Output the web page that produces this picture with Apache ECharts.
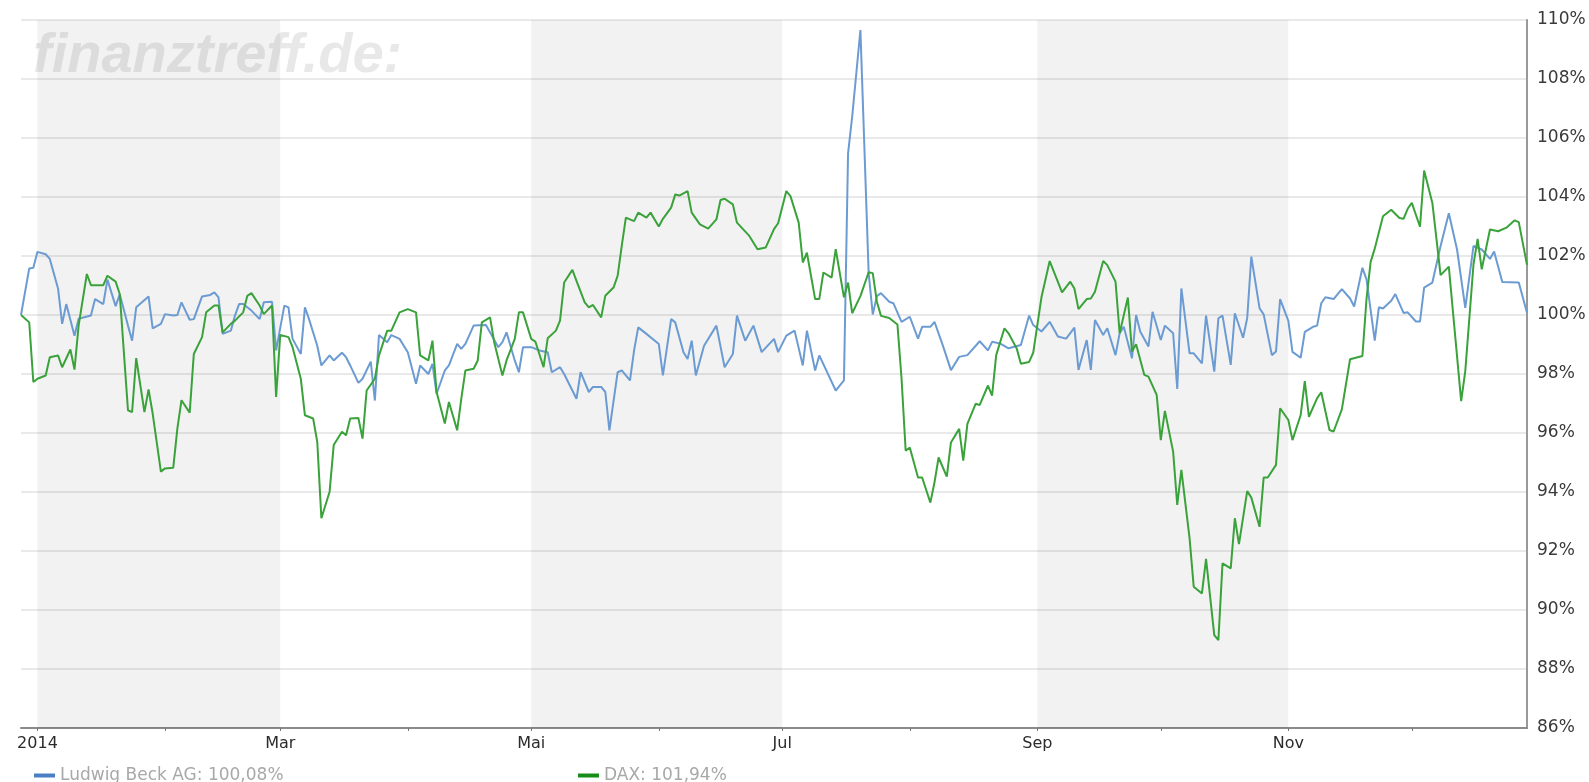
<!DOCTYPE html>
<html>
<head>
<meta charset="utf-8">
<title>Ludwig Beck AG / DAX 2014</title>
<script src="https://cdn.jsdelivr.net/npm/echarts@6/dist/echarts.min.js"></script>
<style>
html, body { margin: 0; padding: 0; background: #fff; }
#chart { width: 1589px; height: 782px; }
</style>
</head>
<body>
<div id="chart"></div>
<script>
// Ludwig Beck AG, Wertentwicklung in % (Start = 100)
var beckDates = [
  '2013-12-28','2013-12-30','2013-12-31','2014-01-01','2014-01-03','2014-01-04','2014-01-06','2014-01-07','2014-01-08','2014-01-10',
  '2014-01-11','2014-01-14','2014-01-15','2014-01-17','2014-01-18','2014-01-20','2014-01-21','2014-01-23','2014-01-24','2014-01-25',
  '2014-01-28','2014-01-29','2014-01-31','2014-02-01','2014-02-03','2014-02-04','2014-02-05','2014-02-07','2014-02-08','2014-02-10',
  '2014-02-12','2014-02-13','2014-02-14','2014-02-15','2014-02-17','2014-02-18','2014-02-19','2014-02-20','2014-02-22','2014-02-24',
  '2014-02-25','2014-02-27','2014-02-28','2014-03-02','2014-03-03','2014-03-04','2014-03-06','2014-03-07','2014-03-08','2014-03-10',
  '2014-03-11','2014-03-13','2014-03-14','2014-03-16','2014-03-17','2014-03-18','2014-03-20','2014-03-21','2014-03-23','2014-03-24',
  '2014-03-25','2014-03-27','2014-03-28','2014-03-30','2014-04-01','2014-04-03','2014-04-04','2014-04-06','2014-04-07','2014-04-08',
  '2014-04-10','2014-04-11','2014-04-13','2014-04-14','2014-04-15','2014-04-17','2014-04-20','2014-04-23','2014-04-24','2014-04-25',
  '2014-04-27','2014-04-28','2014-04-29','2014-05-01','2014-05-03','2014-05-05','2014-05-06','2014-05-08','2014-05-09','2014-05-11',
  '2014-05-12','2014-05-13','2014-05-15','2014-05-16','2014-05-18','2014-05-19','2014-05-20','2014-05-22','2014-05-23','2014-05-25',
  '2014-05-26','2014-05-27','2014-05-29','2014-06-01','2014-06-02','2014-06-04','2014-06-05','2014-06-07','2014-06-08','2014-06-09',
  '2014-06-10','2014-06-12','2014-06-15','2014-06-17','2014-06-19','2014-06-20','2014-06-22','2014-06-24','2014-06-26','2014-06-29',
  '2014-06-30','2014-07-02','2014-07-04','2014-07-06','2014-07-07','2014-07-09','2014-07-10','2014-07-14','2014-07-16','2014-07-17',
  '2014-07-18','2014-07-20','2014-07-22','2014-07-23','2014-07-24','2014-07-25','2014-07-27','2014-07-28','2014-07-30','2014-08-01',
  '2014-08-03','2014-08-04','2014-08-06','2014-08-07','2014-08-09','2014-08-11','2014-08-13','2014-08-15','2014-08-18','2014-08-20',
  '2014-08-21','2014-08-23','2014-08-25','2014-08-28','2014-08-30','2014-08-31','2014-09-02','2014-09-04','2014-09-06','2014-09-08',
  '2014-09-10','2014-09-11','2014-09-13','2014-09-14','2014-09-15','2014-09-17','2014-09-18','2014-09-20','2014-09-21','2014-09-22',
  '2014-09-24','2014-09-25','2014-09-26','2014-09-28','2014-09-29','2014-10-01','2014-10-02','2014-10-04','2014-10-05','2014-10-06',
  '2014-10-08','2014-10-09','2014-10-11','2014-10-12','2014-10-14','2014-10-15','2014-10-16','2014-10-18','2014-10-19','2014-10-21',
  '2014-10-22','2014-10-23','2014-10-25','2014-10-26','2014-10-28','2014-10-29','2014-10-30','2014-11-01','2014-11-02','2014-11-04',
  '2014-11-05','2014-11-07','2014-11-08','2014-11-09','2014-11-10','2014-11-12','2014-11-14','2014-11-16','2014-11-17','2014-11-19',
  '2014-11-20','2014-11-22','2014-11-23','2014-11-24','2014-11-26','2014-11-27','2014-11-29','2014-11-30','2014-12-02','2014-12-03',
  '2014-12-04','2014-12-06','2014-12-08','2014-12-10','2014-12-12','2014-12-14','2014-12-16','2014-12-18','2014-12-20','2014-12-21',
  '2014-12-23','2014-12-27','2014-12-29'
]
var beckValues = [
  100.0, 101.58, 101.6, 102.14, 102.06, 101.9, 100.9, 99.7, 100.37, 99.3,
  99.87, 99.98, 100.54, 100.37, 101.2, 100.3, 100.7, 99.64, 99.13, 100.26,
  100.63, 99.55, 99.7, 100.03, 99.98, 100.0, 100.43, 99.84, 99.86, 100.63,
  100.68, 100.77, 100.6, 99.36, 99.47, 99.98, 100.37, 100.37, 100.15, 99.86,
  100.43, 100.45, 98.8, 100.32, 100.26, 99.19, 98.68, 100.26, 99.86, 98.96,
  98.29, 98.63, 98.46, 98.72, 98.57, 98.29, 97.7, 97.84, 98.42, 97.1,
  99.32, 99.08, 99.32, 99.19, 98.74, 97.67, 98.29, 98.0, 98.34, 97.33,
  98.12, 98.29, 99.02, 98.85, 99.02, 99.64, 99.66, 98.91, 99.08, 99.41,
  98.46, 98.06, 98.91, 98.91, 98.8, 98.74, 98.06, 98.23, 98.0, 97.44,
  97.16, 98.06, 97.39, 97.56, 97.56, 97.39, 96.09, 98.06, 98.12, 97.78,
  98.8, 99.58, 99.36, 99.02, 97.95, 99.86, 99.75, 98.74, 98.51, 99.13,
  97.95, 98.96, 99.64, 98.23, 98.68, 99.98, 99.13, 99.64, 98.74, 99.19,
  98.74, 99.3, 99.47, 98.29, 99.47, 98.12, 98.63, 97.44, 97.78, 105.48,
  106.72, 109.66, 101.43, 100.02, 100.64, 100.74, 100.45, 100.4, 99.77, 99.94,
  99.2, 99.6, 99.6, 99.77, 98.98, 98.13, 98.58, 98.64, 99.11, 98.8,
  99.09, 99.03, 98.87, 98.98, 99.98, 99.66, 99.44, 99.77, 99.27, 99.2,
  99.57, 98.14, 99.15, 98.14, 99.83, 99.32, 99.55, 98.64, 99.38, 99.6,
  98.53, 100.0, 99.44, 98.93, 100.11, 99.15, 99.64, 99.38, 97.49, 100.9,
  98.7, 98.7, 98.36, 99.98, 98.08, 99.89, 99.98, 98.31, 100.06, 99.23,
  99.89, 101.98, 100.23, 100.02, 98.64, 98.76, 100.54, 99.8, 98.75, 98.55,
  99.43, 99.6, 99.64, 100.4, 100.6, 100.54, 100.88, 100.56, 100.29, 101.6,
  101.21, 99.13, 100.26, 100.22, 100.48, 100.71, 100.07, 100.09, 99.78, 99.78,
  100.93, 101.1, 102.34, 103.45, 102.22, 100.24, 102.34, 102.22, 101.9, 102.15,
  101.12, 101.1, 100.08
]

// DAX, Wertentwicklung in % (Start = 100)
var daxDates = [
  '2013-12-28','2013-12-30','2013-12-31','2014-01-01','2014-01-03','2014-01-04','2014-01-06','2014-01-07','2014-01-09','2014-01-10',
  '2014-01-11','2014-01-13','2014-01-14','2014-01-17','2014-01-18','2014-01-20','2014-01-21','2014-01-23','2014-01-24','2014-01-25',
  '2014-01-27','2014-01-28','2014-01-29','2014-01-31','2014-02-01','2014-02-03','2014-02-04','2014-02-05','2014-02-07','2014-02-08',
  '2014-02-10','2014-02-11','2014-02-13','2014-02-14','2014-02-15','2014-02-17','2014-02-18','2014-02-20','2014-02-21','2014-02-22',
  '2014-02-24','2014-02-25','2014-02-27','2014-02-28','2014-03-01','2014-03-03','2014-03-04','2014-03-06','2014-03-07','2014-03-09',
  '2014-03-10','2014-03-11','2014-03-13','2014-03-14','2014-03-16','2014-03-17','2014-03-18','2014-03-20','2014-03-21','2014-03-22',
  '2014-03-24','2014-03-25','2014-03-27','2014-03-28','2014-03-30','2014-04-01','2014-04-03','2014-04-04','2014-04-06','2014-04-07',
  '2014-04-08','2014-04-10','2014-04-11','2014-04-13','2014-04-14','2014-04-15','2014-04-17','2014-04-18','2014-04-19','2014-04-21',
  '2014-04-22','2014-04-24','2014-04-25','2014-04-27','2014-04-28','2014-04-29','2014-05-01','2014-05-02','2014-05-04','2014-05-05',
  '2014-05-07','2014-05-08','2014-05-09','2014-05-11','2014-05-12','2014-05-14','2014-05-15','2014-05-16','2014-05-18','2014-05-19',
  '2014-05-21','2014-05-22','2014-05-23','2014-05-24','2014-05-26','2014-05-27','2014-05-29','2014-05-30','2014-06-01','2014-06-02',
  '2014-06-04','2014-06-05','2014-06-06','2014-06-08','2014-06-09','2014-06-11','2014-06-13','2014-06-15','2014-06-16','2014-06-17',
  '2014-06-19','2014-06-20','2014-06-23','2014-06-25','2014-06-27','2014-06-29','2014-06-30','2014-07-02','2014-07-03','2014-07-05',
  '2014-07-06','2014-07-07','2014-07-09','2014-07-10','2014-07-11','2014-07-13','2014-07-14','2014-07-16','2014-07-17','2014-07-18',
  '2014-07-20','2014-07-22','2014-07-23','2014-07-24','2014-07-25','2014-07-27','2014-07-29','2014-07-30','2014-07-31','2014-08-01',
  '2014-08-03','2014-08-04','2014-08-06','2014-08-07','2014-08-08','2014-08-10','2014-08-11','2014-08-13','2014-08-14','2014-08-15',
  '2014-08-17','2014-08-18','2014-08-20','2014-08-21','2014-08-22','2014-08-24','2014-08-25','2014-08-27','2014-08-28','2014-08-30',
  '2014-08-31','2014-09-02','2014-09-04','2014-09-07','2014-09-09','2014-09-10','2014-09-11','2014-09-13','2014-09-14','2014-09-15',
  '2014-09-17','2014-09-18','2014-09-20','2014-09-21','2014-09-23','2014-09-24','2014-09-25','2014-09-27','2014-09-28','2014-09-30',
  '2014-10-01','2014-10-02','2014-10-04','2014-10-05','2014-10-06','2014-10-08','2014-10-09','2014-10-11','2014-10-12','2014-10-14',
  '2014-10-15','2014-10-16','2014-10-18','2014-10-19','2014-10-20','2014-10-22','2014-10-23','2014-10-25','2014-10-26','2014-10-27',
  '2014-10-29','2014-10-30','2014-11-01','2014-11-02','2014-11-04','2014-11-05','2014-11-06','2014-11-08','2014-11-09','2014-11-11',
  '2014-11-12','2014-11-14','2014-11-16','2014-11-19','2014-11-20','2014-11-21','2014-11-22','2014-11-24','2014-11-26','2014-11-28',
  '2014-11-29','2014-11-30','2014-12-01','2014-12-03','2014-12-04','2014-12-06','2014-12-08','2014-12-10','2014-12-13','2014-12-14',
  '2014-12-16','2014-12-17','2014-12-18','2014-12-20','2014-12-22','2014-12-24','2014-12-26','2014-12-27','2014-12-29'
]
var daxValues = [
  100.0, 99.75, 97.73, 97.84, 97.95, 98.57, 98.63, 98.23, 98.83, 98.15,
  99.64, 101.39, 101.01, 101.01, 101.33, 101.13, 100.71, 96.77, 96.71, 98.54,
  96.71, 97.48, 96.66, 94.69, 94.8, 94.82, 96.15, 97.11, 96.69, 98.68,
  99.25, 100.09, 100.32, 100.32, 99.41, 99.7, 99.81, 100.09, 100.65, 100.74,
  100.32, 100.03, 100.32, 97.22, 99.32, 99.25, 98.91, 97.84, 96.6, 96.49,
  95.7, 93.11, 94.01, 95.59, 96.04, 95.92, 96.49, 96.51, 95.81, 97.44,
  97.84, 98.63, 99.47, 99.47, 100.09, 100.2, 100.09, 98.63, 98.46, 99.13,
  97.39, 96.32, 97.05, 96.09, 97.16, 98.12, 98.18, 98.46, 99.75, 99.92,
  99.08, 97.95, 98.46, 99.19, 100.09, 100.09, 99.19, 99.1, 98.23, 99.21,
  99.47, 99.81, 101.1, 101.53, 101.16, 100.43, 100.26, 100.34, 99.92, 100.65,
  100.93, 101.33, 102.34, 103.3, 103.18, 103.47, 103.3, 103.47, 103.0, 103.26,
  103.64, 104.09, 104.05, 104.2, 103.47, 103.07, 102.93, 103.24, 103.9, 103.94,
  103.75, 103.13, 102.68, 102.23, 102.29, 102.91, 103.11, 104.2, 104.03, 103.13,
  101.78, 102.11, 100.54, 100.54, 101.44, 101.27, 102.23, 100.6, 101.1, 100.06,
  100.64, 101.45, 101.42, 100.45, 99.97, 99.9, 99.68, 97.84, 95.4, 95.51,
  94.49, 94.49, 93.64, 94.32, 95.17, 94.52, 95.68, 96.14, 95.06, 96.31,
  96.99, 96.95, 97.61, 97.27, 98.64, 99.55, 99.38, 98.86, 98.35, 98.41,
  98.72, 100.6, 101.83, 100.77, 101.13, 100.9, 100.2, 100.54, 100.56, 100.79,
  101.83, 101.69, 101.13, 99.38, 100.59, 98.76, 99.01, 97.97, 97.91, 97.29,
  95.76, 96.75, 95.37, 93.56, 94.75, 92.43, 90.79, 90.56, 91.73, 89.15,
  88.98, 91.58, 91.41, 93.11, 92.23, 94.03, 93.81, 92.82, 94.49, 94.49,
  94.92, 96.84, 96.44, 95.76, 96.61, 97.76, 96.55, 97.18, 97.38, 96.1,
  96.05, 96.8, 98.5, 98.61, 100.55, 101.8, 102.25, 103.35, 103.57, 103.29,
  103.26, 103.6, 103.8, 102.99, 104.9, 103.8, 101.35, 101.64, 97.08, 98.1,
  101.72, 102.58, 101.55, 102.9, 102.84, 102.96, 103.21, 103.15, 101.7
]

var seriesNames = ['Ludwig Beck AG', 'DAX']
var legendValues = ['100,08%', '101,94%']

// Achsen
var xStart = '2013-12-28'
var xEnd = '2014-12-29'
var monthStarts = ['2014-01-01', '2014-02-01', '2014-03-01', '2014-04-01', '2014-05-01', '2014-06-01',
  '2014-07-01', '2014-08-01', '2014-09-01', '2014-10-01', '2014-11-01', '2014-12-01']
var labelDates = ['2014-01-01', '2014-03-01', '2014-05-01', '2014-07-01', '2014-09-01', '2014-11-01']
var labelTexts = ['2014', 'Mar', 'Mai', 'Jul', 'Sep', 'Nov']
var bandRanges = [['2014-01-01', '2014-03-01'], ['2014-05-01', '2014-07-01'], ['2014-09-01', '2014-11-01']]

function toTs(s) {
  var p = s.split('-')
  return new Date(+p[0], +p[1] - 1, +p[2]).getTime()
}
function pairs(dates, values) {
  return dates.map(function(d, i) { return [toTs(d), values[i]] })
}

var labelTs = labelDates.map(toTs)
var DAY = 24 * 3600 * 1000

var chart = echarts.init(document.getElementById('chart'))
var legendText = {
  color: '#a8a8a8',
  fontSize: 17,
  fontFamily: 'DejaVu Sans'
}
var option = {
  animation: false,
  backgroundColor: '#fff',
  grid: { left: 21, right: 62, top: 20, bottom: 54 },
  graphic: [{
    type: 'text',
    left: 33,
    top: 29,
    silent: true,
    style: {
      text: 'finanztreff.de:',
      fontFamily: 'Liberation Sans',
      fontStyle: 'italic',
      fontWeight: 'bold',
      fontSize: 56,
      fill: '#e8e8e8'
    }
  }],
  legend: [
    {
      data: [{ name: seriesNames[0], itemStyle: { color: '#4a7fc3' } }],
      left: 29,
      top: 762,
      icon: 'rect',
      itemWidth: 21,
      itemHeight: 4,
      textStyle: legendText,
      formatter: function(name) { return name + ': ' + legendValues[0] }
    },
    {
      data: [{ name: seriesNames[1], itemStyle: { color: '#168d16' } }],
      left: 573,
      top: 762,
      icon: 'rect',
      itemWidth: 21,
      itemHeight: 4,
      textStyle: legendText,
      formatter: function(name) { return name + ': ' + legendValues[1] }
    }
  ],
  // Zeitachse als Zahlenachse (Zeitstempel), damit die Monatsmarken frei gesetzt werden können
  xAxis: {
    type: 'value',
    min: toTs(xStart),
    max: toTs(xEnd),
    axisLine: { onZero: false, lineStyle: { color: '#8a8a8a', width: 2 } },
    axisTick: {
      show: true,
      customValues: monthStarts.map(toTs),
      length: 3,
      lineStyle: { color: '#777' }
    },
    axisLabel: {
      customValues: labelTs,
      color: '#2b2b2b',
      fontSize: 16,
      fontFamily: 'DejaVu Sans',
      margin: 8,
      formatter: function(val) {
        for (var i = 0; i < labelTs.length; i++) {
          if (Math.abs(labelTs[i] - val) < DAY) return labelTexts[i]
        }
        return ''
      }
    },
    splitLine: { show: false }
  },
  yAxis: {
    type: 'value',
    position: 'right',
    min: 86,
    max: 110,
    interval: 2,
    axisLine: { show: true, lineStyle: { color: '#999', width: 2 } },
    axisTick: { show: false },
    axisLabel: {
      formatter: '{value}%',
      color: '#3a3a3a',
      fontSize: 17,
      fontFamily: 'DejaVu Sans',
      margin: 10
    },
    splitLine: { lineStyle: { color: '#e9e9e9', width: 2 } }
  },
  series: [
    {
      name: seriesNames[0],
      type: 'line',
      data: pairs(beckDates, beckValues),
      showSymbol: false,
      symbol: 'none',
      lineStyle: { color: '#6b9bd2', width: 2 },
      itemStyle: { color: '#4a7fc3' },
      markArea: {
        silent: true,
        itemStyle: { color: 'rgba(0, 0, 0, 0.05)' },
        data: bandRanges.map(function(r) {
          return [{ xAxis: toTs(r[0]) }, { xAxis: toTs(r[1]) }]
        })
      }
    },
    {
      name: seriesNames[1],
      type: 'line',
      data: pairs(daxDates, daxValues),
      showSymbol: false,
      symbol: 'none',
      lineStyle: { color: '#3aa23a', width: 2 },
      itemStyle: { color: '#168d16' }
    }
  ]
}
chart.setOption(option)
</script>
</body>
</html>
